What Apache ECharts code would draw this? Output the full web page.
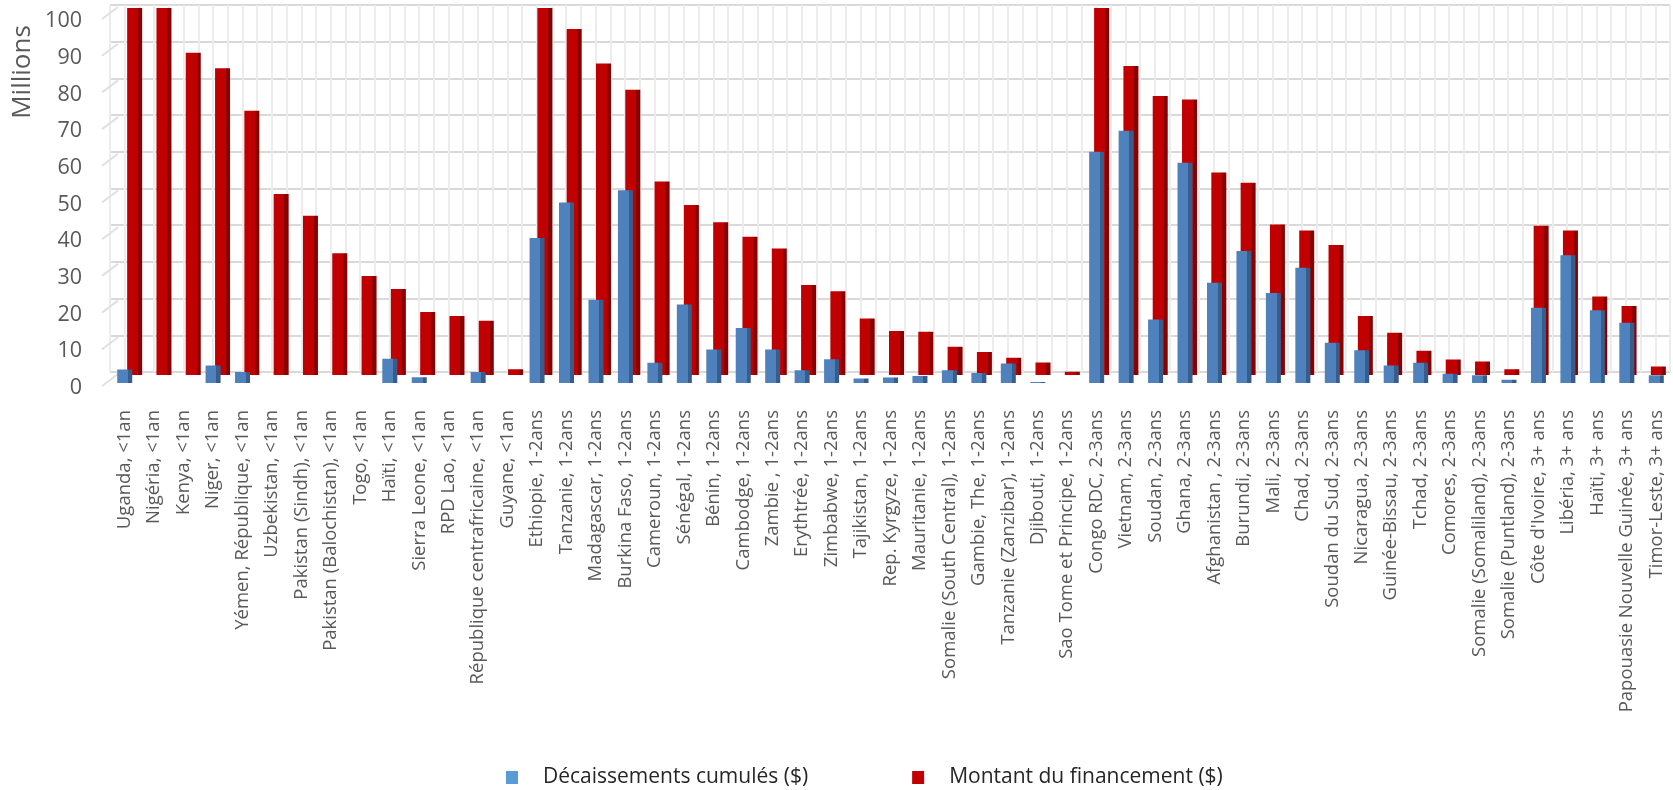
<!DOCTYPE html>
<html>
<head>
<meta charset="utf-8">
<script src="https://cdn.jsdelivr.net/npm/echarts/dist/echarts.min.js"></script>
<style>html,body{margin:0;padding:0;background:#fff}#c{width:1673px;height:790px}</style>
</head>
<body>
<div id="c"></div>
<script>
const categories = [
  'Uganda, <1an','Nigéria, <1an','Kenya, <1an','Niger, <1an','Yémen, République, <1an','Uzbekistan, <1an',
  'Pakistan (Sindh), <1an','Pakistan (Balochistan), <1an','Togo, <1an','Haïti, <1an','Sierra Leone, <1an',
  'RPD Lao, <1an','République centrafricaine, <1an','Guyane, <1an','Ethiopie, 1-2ans','Tanzanie, 1-2ans',
  'Madagascar, 1-2ans','Burkina Faso, 1-2ans','Cameroun, 1-2ans','Sénégal, 1-2ans','Bénin, 1-2ans',
  'Cambodge, 1-2ans','Zambie , 1-2ans','Erythtrée, 1-2ans','Zimbabwe, 1-2ans','Tajikistan, 1-2ans',
  'Rep. Kyrgyze, 1-2ans','Mauritanie, 1-2ans','Somalie (South Central), 1-2ans','Gambie, The, 1-2ans',
  'Tanzanie (Zanzibar), 1-2ans','Djibouti, 1-2ans','Sao Tome et Principe, 1-2ans','Congo RDC, 2-3ans',
  'Vietnam, 2-3ans','Soudan, 2-3ans','Ghana, 2-3ans','Afghanistan , 2-3ans','Burundi, 2-3ans','Mali, 2-3ans',
  'Chad, 2-3ans','Soudan du Sud, 2-3ans','Nicaragua, 2-3ans','Guinée-Bissau, 2-3ans','Tchad, 2-3ans',
  'Comores, 2-3ans','Somalie (Somaliland), 2-3ans','Somalie (Puntland), 2-3ans',"Côte d'Ivoire, 3+ ans",
  'Libéria, 3+ ans','Haïti, 3+ ans','Papouasie Nouvelle Guinée, 3+ ans','Timor-Leste, 3+ ans'
];
// Millions of $
const decaissements = [
  3.7, 0, 0, 4.8, 3.0, 0, 0, 0, 0, 6.6, 1.6, 0, 3.0, 0,
  39.5, 49.2, 22.7, 52.5, 5.5, 21.4, 9.1, 15, 9.1, 3.5, 6.5, 1.2, 1.5, 1.9, 3.5, 2.7, 5.3, 0.3, 0,
  63, 68.7, 17.3, 60, 27.3, 36, 24.5, 31.4, 11, 8.9, 4.8, 5.5, 2.5, 2.1, 0.9,
  20.5, 34.8, 19.8, 16.4, 2.1
];
const montant = [
  100, 100, 87.8, 83.6, 72, 49.3, 43.4, 33.2, 27, 23.4, 17.2, 16.1, 14.8, 1.6,
  100, 94.3, 84.9, 77.7, 52.7, 46.3, 41.6, 37.7, 34.5, 24.5, 22.8, 15.4, 12, 11.8, 7.7, 6.3, 4.7, 3.4, 0.9,
  100, 84.2, 76, 75.1, 55.2, 52.4, 41, 39.4, 35.4, 16.1, 11.5, 6.6, 4.2, 3.7, 1.6,
  40.7, 39.4, 21.4, 18.8, 2.3
];
const valueTicks = { min: 0, max: 100, interval: 10 };
const seriesNames = ['Décaissements cumulés ($)', 'Montant du financement ($)'];
const axisTitle = 'Millions';

const FONT = 'Open Sans';
function faceGradient(front, side) {
  return {
    type: 'linear', x: 0, y: 0, x2: 1, y2: 0,
    colorStops: [
      { offset: 0, color: front }, { offset: 0.72, color: front },
      { offset: 0.72, color: side }, { offset: 1, color: side }
    ]
  };
}
const hiddenValueAxis = (gi) => ({ gridIndex: gi, type: 'value', min: valueTicks.min, max: valueTicks.max, show: false });

const chart = echarts.init(document.getElementById('c'), null, { renderer: 'canvas' });
chart.setOption({
  animation: false,
  backgroundColor: '#ffffff',
  textStyle: { fontFamily: FONT },
  grid: [
    { left: 110, right: 3, top: 5, height: 367 },    // back wall
    { left: 120, right: -8, top: 8, height: 367 },   // rear row (financement)
    { left: 110, right: 2, top: 16, height: 367 },   // front row (décaissements)
    { left: 110, right: 3, top: 21, height: 367 }    // front edge of side wall (value labels)
  ],
  xAxis: [
    { gridIndex: 0, type: 'value', min: 0, max: categories.length * 2, interval: 1,
      axisLabel: { show: false }, axisTick: { show: false }, axisLine: { show: false },
      splitLine: { show: true, lineStyle: { color: '#ececec', width: 2 } } },
    { gridIndex: 1, type: 'category', data: categories, show: false },
    { gridIndex: 2, type: 'category', data: categories,
      axisLine: { show: false }, axisTick: { show: false },
      axisLabel: { rotate: 90, interval: 0, margin: 27, fontSize: 18.5, color: '#595959', fontFamily: FONT } },
    { gridIndex: 3, type: 'value', min: 0, max: 1, show: false }
  ],
  yAxis: [
    { gridIndex: 0, type: 'value', min: valueTicks.min, max: valueTicks.max, interval: valueTicks.interval,
      axisLine: { show: false }, axisTick: { show: false }, axisLabel: { show: false },
      splitLine: { show: true, lineStyle: { color: '#d9d9d9', width: 2 } } },
    hiddenValueAxis(1),
    hiddenValueAxis(2),
    { gridIndex: 3, type: 'value', min: valueTicks.min, max: valueTicks.max, interval: valueTicks.interval,
      axisLine: { show: false }, axisTick: { show: false }, splitLine: { show: false },
      axisLabel: { margin: 28, fontSize: 21.5, color: '#595959', fontFamily: FONT } }
  ],
  legend: {
    left: 501, top: 762, icon: 'rect', itemWidth: 12, itemHeight: 13, itemGap: 104,
    data: [
      { name: seriesNames[0], itemStyle: { color: '#5b9bd5' } },
      { name: seriesNames[1], itemStyle: { color: '#c00000' } }
    ],
    textStyle: { fontSize: 21, color: '#262626', fontFamily: FONT, padding: [0, 0, 0, 20] }
  },
  series: [
    { name: seriesNames[1], type: 'bar', xAxisIndex: 1, yAxisIndex: 1, data: montant,
      barWidth: 15, z: 2, clip: true, itemStyle: { color: faceGradient('#c00000', '#8a0000') } },
    { name: seriesNames[0], type: 'bar', xAxisIndex: 2, yAxisIndex: 2, data: decaissements,
      barWidth: 15, z: 3, itemStyle: { color: faceGradient('#4f81bd', '#385d8a') } }
  ]
});

// side-wall perspective strokes + axis title, positioned through the wall grid's own scale
const wallLines = [];
for (let v = valueTicks.min; v <= valueTicks.max; v += valueTicks.interval) {
  const back = chart.convertToPixel({ gridIndex: 0 }, [0, v]);
  wallLines.push({
    type: 'line', silent: true, z: 1,
    shape: { x1: back[0] - 8, y1: back[1] + 14, x2: back[0] + 8, y2: back[1] + 2 },
    style: { stroke: '#e0e0e0', lineWidth: 2 }
  });
}
wallLines.push({
  type: 'text', x: 23, y: 72, rotation: Math.PI / 2,
  style: { text: axisTitle, fill: '#595959', font: '26px "Open Sans"', align: 'center', verticalAlign: 'middle' }
});
chart.setOption({ graphic: wallLines });
</script>
</body>
</html>
